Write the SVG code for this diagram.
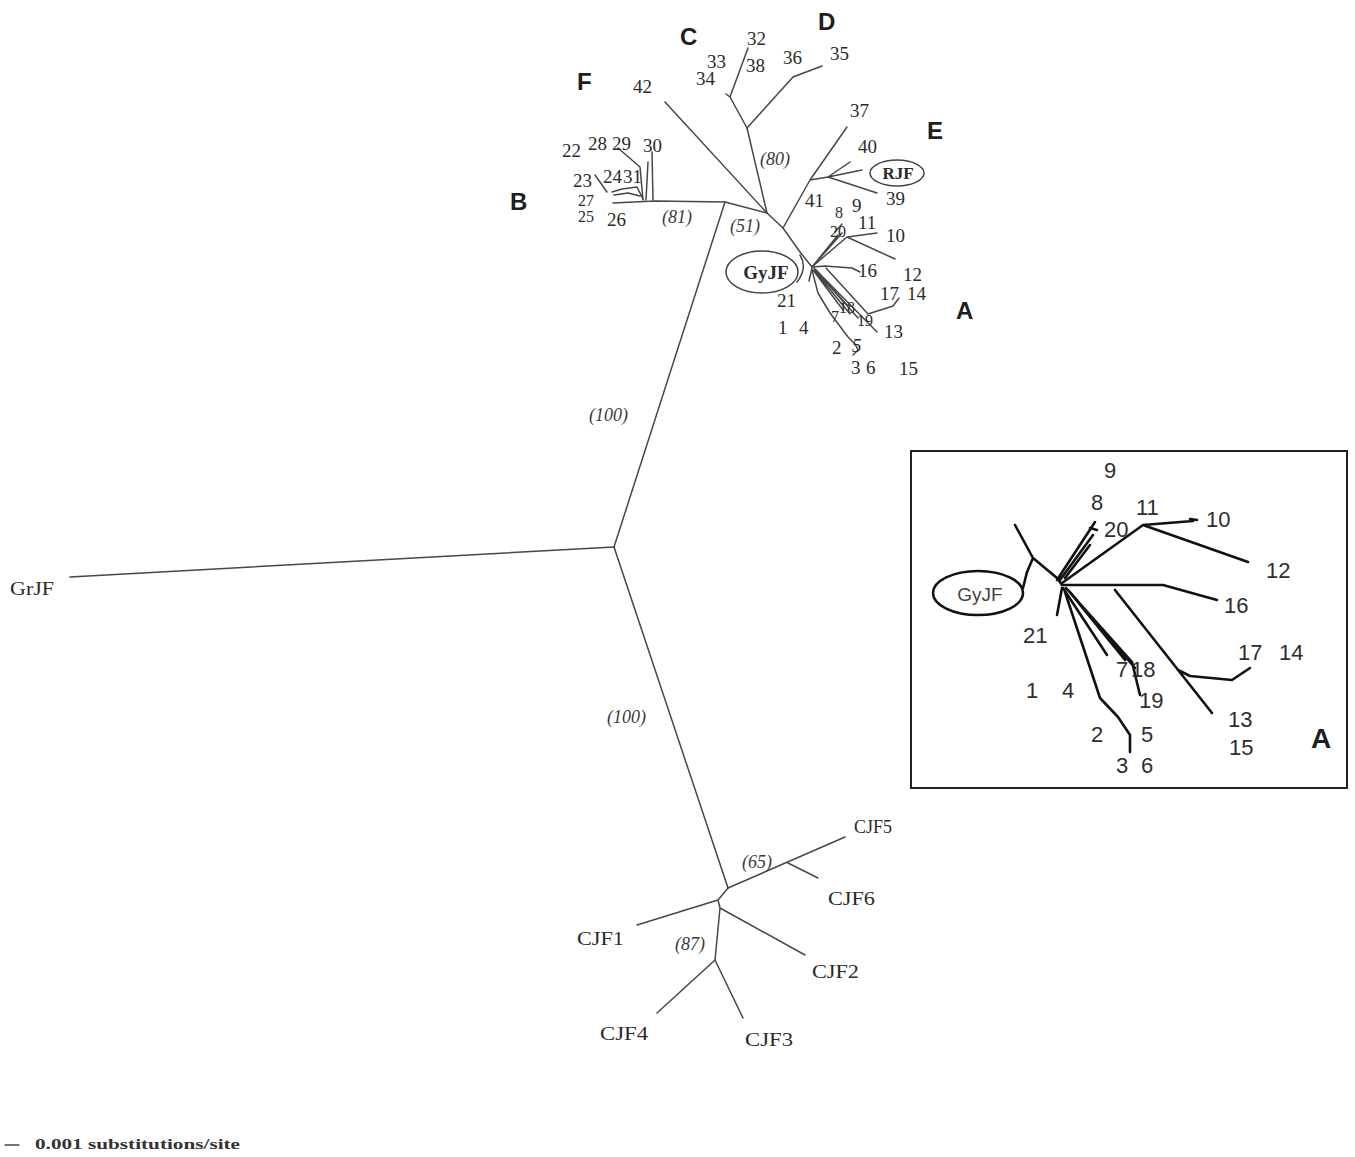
<svg xmlns="http://www.w3.org/2000/svg" width="1355" height="1157" viewBox="0 0 1355 1157">
<style>
.br{fill:none;stroke:#474747;stroke-width:1.5;stroke-linecap:round;stroke-linejoin:round}
.ib{fill:none;stroke:#111;stroke-width:2.6;stroke-linecap:round;stroke-linejoin:round}
.n{font-family:"Liberation Serif",serif;font-size:19px;fill:#2b2b2b}
.s{font-size:16px}
.cj{font-family:"Liberation Serif",serif;font-size:18px;fill:#2b2b2b}
.bs{font-family:"Liberation Serif",serif;font-size:18px;font-style:italic;fill:#3a3a3a}
.cl{font-family:"Liberation Sans",sans-serif;font-size:24px;font-weight:bold;fill:#1e1e1e}
.in{font-family:"Liberation Sans",sans-serif;font-size:22px;fill:#2e2e2e}
.ov{fill:none;stroke:#444;stroke-width:1.5}
</style>
<rect width="1355" height="1157" fill="#fff"/>
<g id="connectors">
<path class="br" d="M70,577 L614,547"/>
<path class="br" d="M614,547 L725,202"/>
<path class="br" d="M614,547 L728,888"/>
<path class="br" d="M725,202 L655,201 L613,203"/>
<path class="br" d="M652,152 L653,200 M648,162 L646,200"/>
<path class="br" d="M618,148 L640,167 L643,200"/>
<path class="br" d="M612,192 L622,189 L637,187 L643,199 M614,195 L628,193 L640,196"/>
<path class="br" d="M595,175 L607,192"/>
<path class="br" d="M725,202 L767,213 L783,228 L800,252 L812,267"/>
<path class="br" d="M665,102 L767,213"/>
<path class="br" d="M767,213 L747,128"/>
<path class="br" d="M747,128 L730,97 L748,48 M730,97 L726,94"/>
<path class="br" d="M747,128 L793,77 L822,66"/>
<path class="br" d="M783,228 L810,180 L847,127 M810,180 L828,177 L850,162 M828,177 L862,170 M828,177 L877,193"/>
<path class="br" d="M800,255 Q808,268 797,282"/>
<path class="br" d="M812,267 L838,235 M814,265 L842,233 M835,232 L842,224"/>
<path class="br" d="M813,266 L847,237 L877,233 M847,237 L895,259"/>
<path class="br" d="M812,267 L825,266 L852,268 L860,272"/>
<path class="br" d="M812,268 L809,281"/>
<path class="br" d="M813,270 L843,310 M814,270 L850,314 M815,270 L858,318 M816,270 L848,306"/>
<path class="br" d="M814,268 L877,332"/>
<path class="br" d="M826,268 L868,314 L893,306 L899,298"/>
<path class="br" d="M812,270 L818,293 L830,313 L848,337 L855,344 L858,350 L853,355"/>
<path class="br" d="M728,888 L845,837 M788,863 L818,878"/>
<path class="br" d="M728,888 L718,900 L637,925 M718,900 L720,908 L805,955 M720,908 L715,960 L657,1013 M715,960 L743,1018"/>
<path class="br" d="M5,1145 L19,1145"/>
<path class="ib" d="M1015,525 L1033,558 L1057,578 L1062,585 M1033,558 L1027,572 L1023,588"/>
<path class="ib" d="M1062,588 L1057,615"/>
<path class="ib" d="M1057,580 L1095,522 M1060,580 L1093,535 M1065,578 L1090,545 M1090,528 L1097,530"/>
<path class="ib" d="M1062,583 L1143,525 L1193,521 M1143,525 L1248,562 M1190,519 L1197,520"/>
<path class="ib" d="M1062,585 L1163,585 L1217,600"/>
<path class="ib" d="M1115,590 L1212,713 M1178,670 L1190,676 L1232,680 L1250,668"/>
<path class="ib" d="M1063,588 L1107,655 M1066,588 L1132,662 L1140,695 M1068,590 L1125,660 M1070,592 L1135,668"/>
<path class="ib" d="M1065,592 L1100,698 L1118,717 L1130,735 L1130,752"/>
</g>
<g id="inset-frame"><rect x="911" y="451" width="436" height="337" fill="none" stroke="#222" stroke-width="2"/></g>
<g id="GrJF"><text class="n" x="10" y="595" textLength="44" lengthAdjust="spacingAndGlyphs">GrJF</text></g>
<g id="GyJF"><ellipse class="ov" cx="762" cy="272" rx="36" ry="21"/><text x="766" y="279" text-anchor="middle" font-family="Liberation Serif,serif" font-size="19" font-weight="bold" fill="#2b2b2b">GyJF</text></g>
<g id="RJF"><ellipse class="ov" cx="897" cy="173" rx="27" ry="13"/><text x="898" y="179" text-anchor="middle" font-family="Liberation Serif,serif" font-size="17" font-weight="bold" fill="#2b2b2b">RJF</text></g>
<g id="labels-clades">
<text class="cl" x="680" y="45">C</text>
<text class="cl" x="818" y="30">D</text>
<text class="cl" x="577" y="90">F</text>
<text class="cl" x="927" y="139">E</text>
<text class="cl" x="510" y="210">B</text>
<text class="cl" x="956" y="319">A</text>
</g>
<g id="labels-leaves">
<text class="n" x="747" y="45">32</text>
<text class="n" x="707" y="68">33</text>
<text class="n" x="696" y="85">34</text>
<text class="n" x="746" y="72">38</text>
<text class="n" x="783" y="64">36</text>
<text class="n" x="830" y="60">35</text>
<text class="n" x="633" y="93">42</text>
<text class="n" x="850" y="117">37</text>
<text class="n" x="858" y="153">40</text>
<text class="n" x="886" y="205">39</text>
<text class="n" x="805" y="207">41</text>
<text class="n" x="562" y="157">22</text>
<text class="n" x="588" y="150">28</text>
<text class="n" x="612" y="150">29</text>
<text class="n" x="643" y="152">30</text>
<text class="n" x="573" y="187">23</text>
<text class="n" x="603" y="183">24</text>
<text class="n" x="623" y="183">31</text>
<text class="n s" x="578" y="206">27</text>
<text class="n s" x="578" y="222">25</text>
<text class="n" x="607" y="226">26</text>
<text class="n" x="852" y="212">9</text>
<text class="n s" x="835" y="218">8</text>
<text class="n s" x="830" y="237">20</text>
<text class="n" x="858" y="229">11</text>
<text class="n" x="886" y="242">10</text>
<text class="n" x="858" y="277">16</text>
<text class="n" x="903" y="281">12</text>
<text class="n" x="880" y="300">17</text>
<text class="n" x="907" y="300">14</text>
<text class="n" x="777" y="307">21</text>
<text class="n" x="778" y="334">1</text>
<text class="n" x="799" y="334">4</text>
<text class="n s" x="831" y="322">7</text>
<text class="n s" x="839" y="313">18</text>
<text class="n s" x="857" y="326">19</text>
<text class="n" x="884" y="338">13</text>
<text class="n" x="832" y="354">2</text>
<text class="n" x="852" y="352" font-style="italic">5</text>
<text class="n" x="851" y="374">3</text>
<text class="n" x="866" y="374">6</text>
<text class="n" x="899" y="375">15</text>
</g>
<g id="labels-bootstrap">
<text class="bs" x="760" y="165">(80)</text>
<text class="bs" x="662" y="223">(81)</text>
<text class="bs" x="730" y="232">(51)</text>
<text class="bs" x="589" y="421">(100)</text>
<text class="bs" x="607" y="723">(100)</text>
<text class="bs" x="742" y="868">(65)</text>
<text class="bs" x="675" y="950">(87)</text>
</g>
<g id="labels-CJF">
<text class="cj" x="854" y="833" textLength="38" lengthAdjust="spacingAndGlyphs">CJF5</text>
<text class="cj" x="828" y="905" textLength="47" lengthAdjust="spacingAndGlyphs">CJF6</text>
<text class="cj" x="577" y="945" textLength="47" lengthAdjust="spacingAndGlyphs">CJF1</text>
<text class="cj" x="812" y="978" textLength="47" lengthAdjust="spacingAndGlyphs">CJF2</text>
<text class="cj" x="600" y="1040" textLength="48" lengthAdjust="spacingAndGlyphs">CJF4</text>
<text class="cj" x="745" y="1046" textLength="48" lengthAdjust="spacingAndGlyphs">CJF3</text>
</g>
<g id="scale-legend"><text x="35" y="1149" font-family="Liberation Serif,serif" font-size="15" font-weight="bold" fill="#333" textLength="205" lengthAdjust="spacingAndGlyphs">0.001 substitutions/site</text></g>
<g id="inset">
<g id="inset-GyJF"><ellipse cx="978" cy="593" rx="45" ry="22" fill="none" stroke="#111" stroke-width="2.6"/><text x="980" y="601" text-anchor="middle" font-family="Liberation Sans,sans-serif" font-size="19" fill="#444">GyJF</text></g>
<text class="in" x="1104" y="478">9</text>
<text class="in" x="1091" y="510">8</text>
<text class="in" x="1136" y="515">11</text>
<text class="in" x="1104" y="537">20</text>
<text class="in" x="1206" y="527">10</text>
<text class="in" x="1266" y="578">12</text>
<text class="in" x="1224" y="613">16</text>
<text class="in" x="1023" y="643">21</text>
<text class="in" x="1238" y="660">17</text>
<text class="in" x="1279" y="660">14</text>
<text class="in" x="1116" y="677">7</text>
<text class="in" x="1131" y="677">18</text>
<text class="in" x="1026" y="698">1</text>
<text class="in" x="1062" y="698">4</text>
<text class="in" x="1139" y="708">19</text>
<text class="in" x="1228" y="727">13</text>
<text class="in" x="1091" y="742">2</text>
<text class="in" x="1141" y="742">5</text>
<text class="in" x="1229" y="755">15</text>
<text class="in" x="1116" y="773">3</text>
<text class="in" x="1141" y="773">6</text>
<text x="1311" y="748" font-family="Liberation Sans,sans-serif" font-size="28" font-weight="bold" fill="#1e1e1e">A</text>
</g>
</svg>
